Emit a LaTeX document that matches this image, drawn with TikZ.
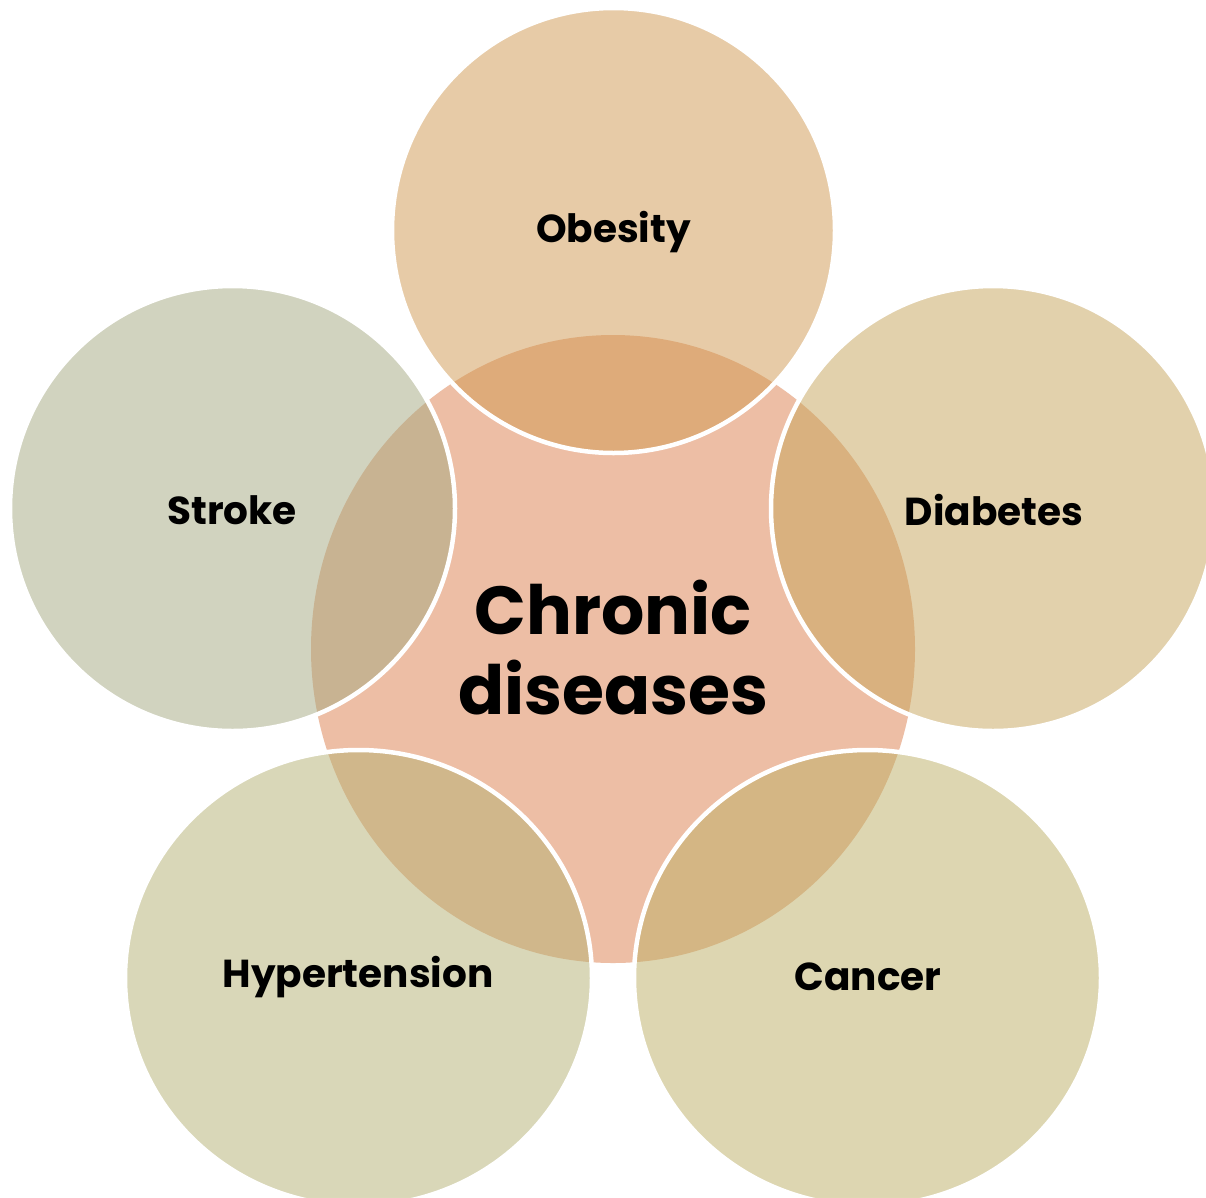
\documentclass[tikz,border=0pt]{standalone}
\usepackage{fontspec}
\setmainfont{Poppins}
\usetikzlibrary{shapes.geometric}
\definecolor{cCenter}{HTML}{EDBEA5}
\definecolor{cObesity}{HTML}{D19951}
\definecolor{cDiabetes}{HTML}{C7A55B}
\definecolor{cCancer}{HTML}{BDAF65}
\definecolor{cHyper}{HTML}{B5B173}
\definecolor{cStroke}{HTML}{A5A981}
\tikzset{
  outer/.style={ellipse, inner sep=0pt, outer sep=0pt, draw=white, line width=4.5pt,
    fill opacity=0.5, draw opacity=1, text opacity=1},
  lbl/.style={font=\fontsize{39}{44}\selectfont\bfseries, text=black, inner sep=0pt},
}
\begin{document}
\begin{tikzpicture}[x=1pt,y=-1pt]
\path[use as bounding box, clip] (0,0) rectangle (1206,1197);
\fill[white] (0,0) rectangle (1206,1197);
\node[ellipse, inner sep=0pt, fill=cCenter, minimum width=604pt, minimum height=628pt] (center) at (613,649) {};
\node[outer, fill=cObesity, minimum width=443pt, minimum height=445pt] (obesity) at (613.5,230.5) {};
\node[outer, fill=cDiabetes, minimum width=444pt, minimum height=445pt] (diabetes) at (993,508.5) {};
\node[outer, fill=cCancer, minimum width=467pt, minimum height=456pt] (cancer) at (867.5,978) {};
\node[outer, fill=cHyper, minimum width=467pt, minimum height=456pt] (hyper) at (358.5,978) {};
\node[outer, fill=cStroke, minimum width=445pt, minimum height=445pt] (stroke) at (232.5,508.5) {};
\node[lbl] (tObesity) at (613.5,232) {Obesity};
\node[lbl] (tDiabetes) at (994,510) {Diabetes};
\node[lbl] (tCancer) at (868,977) {Cancer};
\node[lbl] (tHyper) at (358,977) {Hypertension};
\node[lbl] (tStroke) at (232,510) {Stroke};
\node[font=\fontsize{68}{80}\selectfont\bfseries, align=center, inner sep=0pt] (tCenter) at (613,648) {Chronic\\diseases};
\end{tikzpicture}
\end{document}
